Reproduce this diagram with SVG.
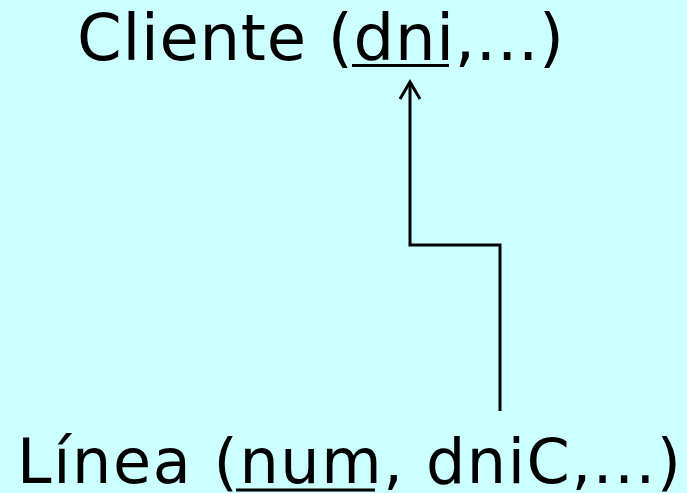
<svg xmlns="http://www.w3.org/2000/svg" width="687" height="493" viewBox="0 0 687 493">
<style>
.t{font-family:"DejaVu Sans","Verdana",sans-serif;fill:#000}
.c{fill:none;stroke:#000;stroke-width:3}
.u{stroke:#000;stroke-width:3}
</style>
<defs>
<marker id="ah" markerWidth="24" markerHeight="24" viewBox="-20 -12 24 24" refX="0" refY="0" orient="auto" markerUnits="userSpaceOnUse">
<polyline points="-17,-10 0,0 -17,10" fill="none" stroke="#000" stroke-width="3"/>
</marker>
</defs>
<rect width="687" height="493" fill="#CCFFFF"/>
<g id="cliente">
<text class="t" x="77" y="60" font-size="64" textLength="487" lengthAdjust="spacing">Cliente (dni,...)</text>
<line class="u" x1="352" y1="65.5" x2="449" y2="65.5"/>
</g>
<g id="linea">
<text class="t" x="17" y="483" font-size="62" textLength="664" lengthAdjust="spacing">Línea (num, dniC,...)</text>
<line class="u" x1="236" y1="490" x2="375" y2="490"/>
</g>
<g id="connectors">
<path class="c" d="M500,411 V245 H410 V82" marker-end="url(#ah)"/>
</g>
</svg>
